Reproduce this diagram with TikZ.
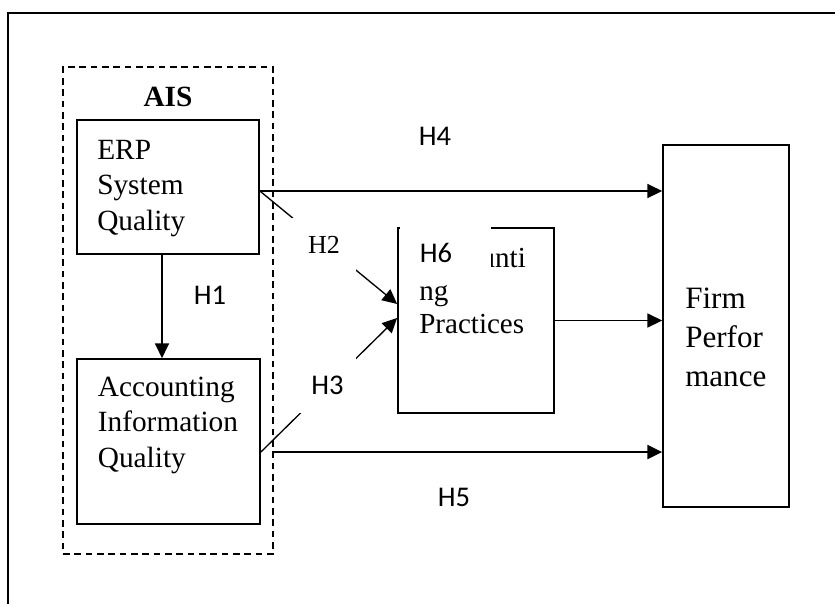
\documentclass[tikz,border=0pt]{standalone}
\usepackage{fontspec}
\setmainfont{Liberation Serif}
\newfontfamily\calib{Carlito}
\usetikzlibrary{arrows.meta}
\begin{document}
\begin{tikzpicture}[x=0.75pt,y=-0.75pt,
  box/.style={draw,line width=1.3pt,rectangle,inner sep=0pt},
  aisbox/.style={draw,line width=1pt,dash pattern=on 5pt off 3.5pt,rectangle,inner sep=0pt},
  arr/.style={line width=1.2pt,-{Triangle[length=11pt,width=10.5pt]}},
  darr/.style={line width=1pt,-{Triangle[length=11pt,width=10.5pt]}},
  txt/.style={inner sep=0pt,anchor=base west,align=left,font=\fontsize{22}{26.6}\selectfont},
  lab/.style={inner sep=0pt,font=\calib\fontsize{21.4}{24}\selectfont},
  slab/.style={inner sep=0pt,font=\fontsize{19.5}{22}\selectfont}]
\useasboundingbox (0,0) rectangle (835,604);
% outer frame (only top and left sides visible)
\draw[line width=1.3pt] (8,604) -- (8,13) -- (835,13);
% boxes
\node[aisbox,minimum width=157.5pt,minimum height=365.25pt] (ais) at (168,310.5) {};
\node[box,minimum width=136.5pt,minimum height=100.5pt] (erp) at (168,187) {};
\node[box,minimum width=137.25pt,minimum height=123.75pt] (acc) at (168.5,441.5) {};
\node[box,minimum width=117pt,minimum height=138.75pt] (ap) at (476,320.5) {};
\node[box,minimum width=94.5pt,minimum height=271.5pt] (fp) at (726,326) {};
% texts (anchored at the baseline of the last line)
\node[inner sep=0pt,font=\bfseries\fontsize{22}{25}\selectfont] (aist) at (168,97) {AIS};
\node[txt] (erpt) at (97,230) {ERP\\System\\Quality};
\node[txt] (acct) at (97.6,467) {Accounting\\Information\\Quality};
\node[txt,font=\fontsize{21.8}{24.75}\selectfont] (apt) at (419,333) {Accounti\\ng\\Practices};
\node[txt,font=\fontsize{23.3}{29}\selectfont] (fpt) at (685,386) {Firm\\Perfor\\mance};
% connection points
\coordinate (h1s) at ([xshift=-4.5pt]erp.south);
\coordinate (h4s) at ([yshift=-3pt]erp.east);
\coordinate (h2e) at ([yshift=12.4pt]ap.west);
\coordinate (h3s) at ([yshift=-7.9pt]acc.east);
\coordinate (h3e) at ([yshift=1.9pt]ap.west);
% connectors
\draw[darr] (h1s) -- (h1s |- acc.north);
\draw[arr] (h4s) -- (h4s -| fp.west);
\draw[darr] (h4s) -- (h2e);
\draw[darr] (h3s) -- (h3e);
\draw[arr] (ap.east) -- (ap.east -| fp.west);
\draw[arr] (ais.east |- h3s) -- (h3s -| fp.west);
% labels
\node[lab] (h1) at (210,295) {H1};
\node[lab] (h4) at (435,136) {H4};
\node[lab] (h5) at (454,497) {H5};
\node[slab,fill=white,minimum width=48pt,minimum height=39.75pt] (h2) at (324,244.5) {H2};
\node[lab,fill=white,minimum width=42.75pt,minimum height=42pt] (h3) at (327.5,385) {H3};
\fill[white] (400,214) rectangle (491,276);
\node[lab] (h6) at (436,253) {H6};
\end{tikzpicture}
\end{document}
